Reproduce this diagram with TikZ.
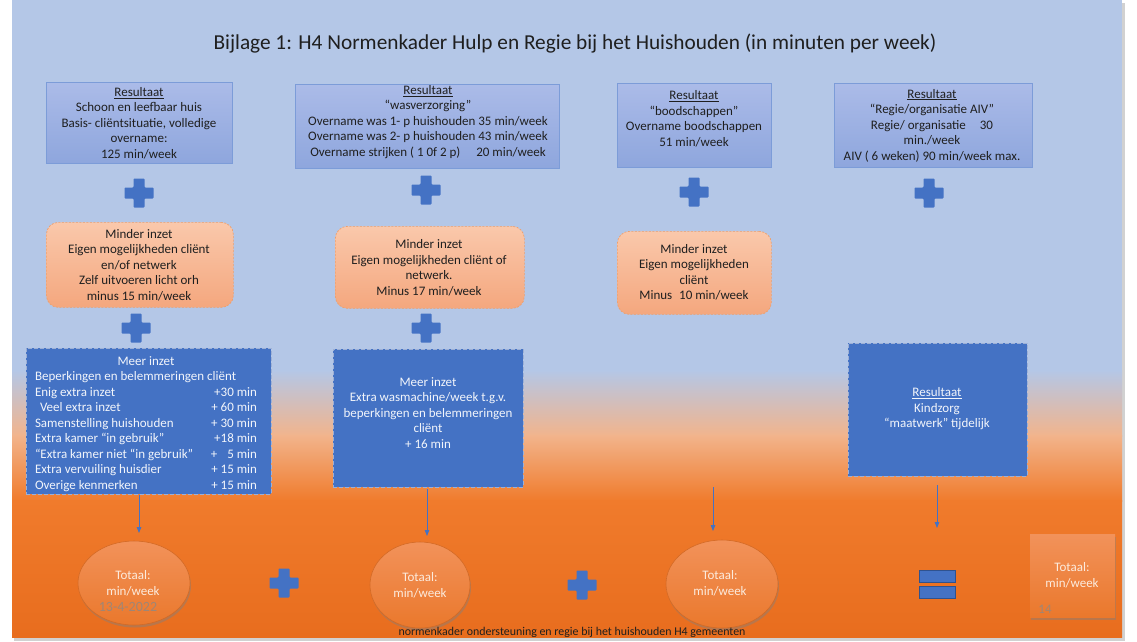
\documentclass[tikz,border=0pt]{standalone}
\usepackage{fontspec}
\setmainfont{Carlito}
\usetikzlibrary{arrows.meta,shadows,shapes.geometric}
\definecolor{bgblue}{HTML}{B4C7E7}
\definecolor{peach}{HTML}{F2B48C}
\definecolor{bgorange}{HTML}{F07B2C}
\definecolor{bgorangeD}{HTML}{E86D1E}
\definecolor{plusblue}{HTML}{4472C4}
\definecolor{plusdark}{HTML}{2F528F}
\definecolor{tboxtop}{HTML}{ABBBE8}
\definecolor{tboxbot}{HTML}{8EA6DD}
\definecolor{tboxline}{HTML}{7C9CD8}
\definecolor{oboxtop}{HTML}{FAC8AB}
\definecolor{oboxbot}{HTML}{F4A77E}
\definecolor{oboxline}{HTML}{EE9F6C}
\definecolor{bboxline}{HTML}{9DB0D6}
\definecolor{elltop}{HTML}{F2925A}
\definecolor{ellbot}{HTML}{EA782C}
\definecolor{ellline}{HTML}{D36A26}
\definecolor{darktext}{HTML}{1F1F1F}
\definecolor{lighttext}{HTML}{F2F5FB}
\definecolor{orangetext}{HTML}{FCEBDD}
\definecolor{dimtext}{HTML}{9E8676}
\tikzset{
  topbox/.style={draw=tboxline, line width=0.8pt, top color=tboxtop, bottom color=tboxbot, anchor=north west, inner sep=0pt},
  minbox/.style={draw=oboxline, line width=0.7pt, dash pattern=on 2pt off 1.5pt, top color=oboxtop, bottom color=oboxbot, rounded corners=12pt, anchor=north west, inner sep=0pt},
  meerbox/.style={draw=bboxline, line width=0.7pt, dash pattern=on 4pt off 2pt, fill=plusblue, anchor=north west, inner sep=0pt},
  dtxt/.style={text=darktext, align=center, inner sep=0pt, font=\fontsize{13}{15.5}\selectfont},
  wtxt/.style={text=lighttext, align=center, inner sep=0pt, font=\fontsize{13}{15.5}\selectfont},
  otxt/.style={text=orangetext, align=center, inner sep=0pt, font=\fontsize{13}{16}\selectfont},
  totell/.style={ellipse, draw=ellline, line width=0.6pt, top color=elltop, bottom color=ellbot, inner sep=0pt, drop shadow={opacity=0.45, shadow xshift=1pt, shadow yshift=-2.5pt}},
  totsq/.style={draw=none, top color=elltop, bottom color=ellbot, anchor=north west, inner sep=0pt, drop shadow={opacity=0.45, shadow xshift=1pt, shadow yshift=-2.5pt}},
  flowarrow/.style={draw=plusblue, line width=0.8pt, -{Triangle[length=6pt,width=4.5pt]}},
  plussign/.pic={\fill[plusblue, rounded corners=0.8pt] (-5.5,-14.5) -- (5.5,-14.5) -- (5.5,-5.5) -- (14.5,-5.5) -- (14.5,5.5) -- (5.5,5.5) -- (5.5,14.5) -- (-5.5,14.5) -- (-5.5,5.5) -- (-14.5,5.5) -- (-14.5,-5.5) -- (-5.5,-5.5) -- cycle;},
  eqsign/.pic={\filldraw[fill=plusblue, draw=plusdark, line width=0.6pt] (-18,-13.5) rectangle (18,-2); \filldraw[fill=plusblue, draw=plusdark, line width=0.6pt] (-18,2.5) rectangle (18,14);}
}
\begin{document}
\begin{tikzpicture}[x=1pt,y=-1pt]
\useasboundingbox (0,0) rectangle (1137,641);
% page and slide background
\fill[white] (0,0) rectangle (1137,641);
\fill[black!18] (14,3) rectangle (1125,641);
\fill[bgblue] (12,0) rectangle (1122,371);
\shade[top color=bgblue, bottom color=peach] (12,370) rectangle (1122,436);
\shade[top color=peach, bottom color=bgorange] (12,435) rectangle (1122,501);
\shade[top color=bgorange, bottom color=bgorangeD] (12,500) rectangle (1122,637);

% title
\node[text=darktext, inner sep=0pt, font=\fontsize{21.3}{25}\selectfont] (title) at (575,44) {Bijlage 1: H4 Normenkader Hulp en Regie bij het Huishouden (in minuten per week)};

% top result boxes
\node[topbox, minimum width=186pt, minimum height=81pt] (r1) at (46,82) {};
\node[dtxt] (r1t) at (139,123) {\underline{Resultaat}\\Schoon en leefbaar huis\\Basis- cliëntsituatie, volledige\\overname:\\125 min/week};
\node[topbox, minimum width=264pt, minimum height=84pt] (r2) at (295,84) {};
\node[dtxt] (r2t) at (428,122) {\underline{Resultaat}\\“wasverzorging”\\Overname was 1- p huishouden 35 min/week\\Overname was 2- p huishouden 43 min/week\\Overname strijken ( 1 0f 2 p)\hspace{16pt}20 min/week};
\node[topbox, minimum width=154pt, minimum height=84pt] (r3) at (617,83) {};
\node[dtxt] (r3t) at (694,119) {\underline{Resultaat}\\“boodschappen”\\Overname boodschappen\\51 min/week};
\node[topbox, minimum width=198pt, minimum height=84pt] (r4) at (834,83) {};
\node[dtxt] (r4t) at (932,125.5) {\underline{Resultaat}\\“Regie/organisatie AIV”\\Regie/ organisatie\hspace{14pt}30\\min./week\\AIV ( 6 weken) 90 min/week max.};

% plus signs row 1
\pic at (139,193) {plussign};
\pic at (426,190) {plussign};
\pic at (694,192) {plussign};
\pic at (929,193) {plussign};

% minder inzet boxes
\node[minbox, minimum width=187pt, minimum height=85pt] (m1) at (46,222) {};
\node[dtxt] (m1t) at (139,265) {Minder inzet\\Eigen mogelijkheden cliënt\\en/of netwerk\\Zelf uitvoeren licht orh\\minus 15 min/week};
\node[minbox, minimum width=189pt, minimum height=82pt] (m2) at (335,226) {};
\node[dtxt] (m2t) at (429,268) {Minder inzet\\Eigen mogelijkheden cliënt of\\netwerk.\\Minus 17 min/week};
\node[minbox, minimum width=154pt, minimum height=83pt] (m3) at (617,231) {};
\node[dtxt] (m3t) at (694,272.5) {Minder inzet\\Eigen mogelijkheden\\cliënt\\Minus\hspace{4pt} 10 min/week};

% plus signs row 2
\pic at (136,328) {plussign};
\pic at (426,328) {plussign};

% meer inzet boxes
\node[meerbox, minimum width=245pt, minimum height=146pt] (b1) at (26,348) {};
\node[wtxt] (b1t) at (146,424) {Meer inzet\\
\makebox[222pt]{Beperkingen en belemmeringen cliënt\hfill}\\
\makebox[222pt]{Enig extra inzet\hfill +30 min}\\
\makebox[222pt]{\hspace{5pt}Veel extra inzet\hfill + 60 min}\\
\makebox[222pt]{Samenstelling huishouden\hfill + 30 min}\\
\makebox[222pt]{Extra kamer “in gebruik”\hfill +18 min}\\
\makebox[222pt]{“Extra kamer niet “in gebruik”\hfill +\hspace{10pt}5 min}\\
\makebox[222pt]{Extra vervuiling huisdier\hfill + 15 min}\\
\makebox[222pt]{Overige kenmerken\hfill + 15 min}};
\node[meerbox, minimum width=190pt, minimum height=138pt] (b2) at (333,349) {};
\node[wtxt] (b2t) at (428,413) {Meer inzet\\Extra wasmachine/week t.g.v.\\beperkingen en belemmeringen\\cliënt\\+ 16 min};
\node[meerbox, minimum width=179pt, minimum height=133pt] (b4) at (848,343) {};
\node[wtxt] (b4t) at (937,409) {\underline{Resultaat}\\Kindzorg\\“maatwerk” tijdelijk};

% totals
\node[totell, minimum width=112pt, minimum height=84pt] (e1) at (134,583) {};
\node[otxt] (e1t) at (133,583) {Totaal:\\min/week};
\node[text=dimtext, inner sep=0pt, font=\fontsize{14}{16}\selectfont] (date) at (128,607) {13-4-2022};
\node[totell, minimum width=100pt, minimum height=86pt] (e2) at (420,585) {};
\node[otxt] (e2t) at (420,585) {Totaal:\\min/week};
\node[totell, minimum width=112pt, minimum height=88pt] (e3) at (722,584) {};
\node[otxt] (e3t) at (720,583) {Totaal:\\min/week};
\node[totsq, minimum width=85pt, minimum height=83pt] (sq) at (1030,534) {};
\node[otxt] (sqt) at (1072,575.5) {Totaal:\\min/week};
\node[text=dimtext, inner sep=0pt, font=\fontsize{13}{15}\selectfont] (pnum) at (1045,609) {14};

% bottom operators
\pic at (284,583) {plussign};
\pic at (582,585) {plussign};
\pic at (937,584) {eqsign};

% arrows
\coordinate (a1s) at (139,495);
\coordinate (a1e) at (139,533);
\coordinate (a2s) at (427,489);
\coordinate (a2e) at (427,536);
\coordinate (a3s) at (713,487);
\coordinate (a3e) at (713,531);
\coordinate (a4s) at (937,485);
\coordinate (a4e) at (937,528);
\draw[flowarrow] (a1s) -- (a1e);
\draw[flowarrow] (a2s) -- (a2e);
\draw[flowarrow] (a3s) -- (a3e);
\draw[flowarrow] (a4s) -- (a4e);

% footer
\node[text=darktext, inner sep=0pt, font=\fontsize{11.9}{14}\selectfont] (footer) at (572,632) {normenkader ondersteuning en regie bij het huishouden H4 gemeenten};
\end{tikzpicture}
\end{document}
